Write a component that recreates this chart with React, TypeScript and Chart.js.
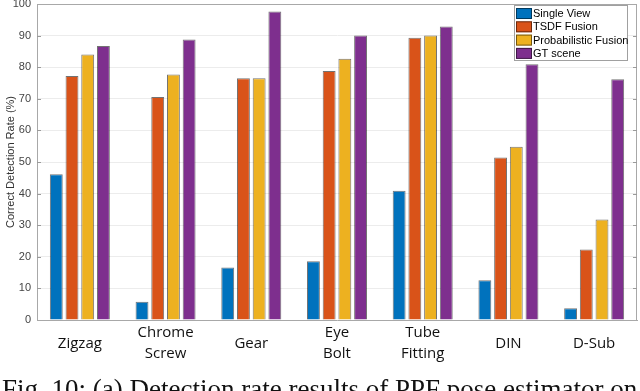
import React, { useEffect, useRef } from "react";
import { Chart, registerables } from "chart.js";

Chart.register(...registerables);

const categories: (string | string[])[] = [
  "Zigzag",
  ["Chrome", "Screw"],
  "Gear",
  ["Eye", "Bolt"],
  ["Tube", "Fitting"],
  "DIN",
  "D-Sub",
];

const seriesNames = ["Single View", "TSDF Fusion", "Probabilistic Fusion", "GT scene"];
const singleView = [46.1, 5.8, 16.6, 18.6, 40.9, 12.6, 3.7];
const tsdfFusion = [77.2, 70.6, 76.5, 78.8, 89.3, 51.4, 22.3];
const probFusion = [84.0, 77.7, 76.5, 82.7, 90.0, 54.8, 31.8];
const gtScene = [86.7, 88.8, 97.6, 90.0, 92.9, 80.9, 76.2];
const seriesColors = ["#0072BD", "#D95319", "#EDB120", "#7E2F8E"];

const yMin = 0;
const yMax = 100;
const yStep = 10;
const yTitle = "Correct Detection Rate (%)";
const caption = "Fig. 10: (a) Detection rate results of PPF pose estimator on";

const framePlugin = {
  id: "frame",
  afterDatasetsDraw(chart: any) {
    const { ctx, chartArea: a, scales } = chart;
    ctx.save();
    ctx.strokeStyle = "#a8a8a8";
    ctx.lineWidth = 1;
    ctx.beginPath();
    ctx.moveTo(a.left, a.top + 0.5);
    ctx.lineTo(a.right, a.top + 0.5);
    ctx.moveTo(a.right - 0.5, a.top);
    ctx.lineTo(a.right - 0.5, a.bottom);
    ctx.stroke();
    ctx.strokeStyle = "#9a9a9a";
    ctx.beginPath();
    const y = scales.y;
    for (let v = yMin + yStep; v < yMax; v += yStep) {
      const py = Math.round(y.getPixelForValue(v)) + 0.5;
      ctx.moveTo(a.left, py);
      ctx.lineTo(a.left + 4, py);
      ctx.moveTo(a.right, py);
      ctx.lineTo(a.right - 4, py);
    }
    ctx.stroke();
    ctx.restore();
  },
};

const legendPlugin = {
  id: "insideLegend",
  afterDraw(chart: any) {
    const { ctx, chartArea: a } = chart;
    const boxW = 114;
    const boxH = 56;
    const bx = a.right - 9 - boxW;
    const by = a.top + 1;
    ctx.save();
    ctx.fillStyle = "#ffffff";
    ctx.fillRect(bx, by, boxW, boxH);
    ctx.strokeStyle = "#a0a0a0";
    ctx.lineWidth = 1;
    ctx.strokeRect(bx + 0.5, by + 0.5, boxW - 1, boxH - 1);
    ctx.font = "11px 'Liberation Sans', Arial, sans-serif";
    ctx.textBaseline = "middle";
    ctx.textAlign = "left";
    chart.data.datasets.forEach((ds: any, i: number) => {
      const cy = by + 8.5 + i * 13.3;
      ctx.fillStyle = ds.backgroundColor;
      ctx.fillRect(bx + 2, cy - 5.5, 16, 11);
      ctx.strokeStyle = "rgba(0,0,0,0.5)";
      ctx.strokeRect(bx + 2.5, cy - 5, 15, 10);
      ctx.fillStyle = "#000";
      ctx.fillText(ds.label, bx + 19, cy + 0.5);
    });
    ctx.restore();
  },
};

export default function App() {
  const canvasRef = useRef<HTMLCanvasElement | null>(null);

  useEffect(() => {
    const canvas = canvasRef.current;
    if (!canvas) return;
    const data = [singleView, tsdfFusion, probFusion, gtScene];
    const chart = new Chart(canvas, {
      type: "bar",
      data: {
        labels: categories,
        datasets: data.map((d, i) => ({
          label: seriesNames[i],
          data: d,
          backgroundColor: seriesColors[i],
          borderColor: "rgba(0,0,0,0.55)",
          borderWidth: 1,
          categoryPercentage: 0.733,
          barPercentage: 0.82,
        })),
      },
      options: {
        responsive: false,
        animation: false,
        layout: { padding: { top: 4, right: 3, left: 0, bottom: 0 } },
        plugins: {
          legend: { display: false },
          tooltip: { enabled: false },
        },
        scales: {
          x: {
            grid: { display: false },
            border: { display: true, color: "#a8a8a8" },
            ticks: {
              font: { family: "'Open Sans', sans-serif", size: 15, lineHeight: 1.4 },
              color: "#111",
              padding: 5,
              crossAlign: "center",
              maxRotation: 0,
              autoSkip: false,
            },
            afterFit(scale: any) {
              scale.height = 71;
              scale.paddingLeft = 0;
              scale.paddingRight = 0;
            },
          },
          y: {
            min: yMin,
            max: yMax,
            grid: { color: "#ececec", drawTicks: false },
            border: { display: true, color: "#a8a8a8" },
            ticks: {
              stepSize: yStep,
              padding: 6,
              color: "#444",
              font: { family: "'Liberation Sans', Arial, sans-serif", size: 11 },
            },
            title: {
              display: true,
              text: yTitle,
              color: "#333",
              font: { family: "'Liberation Sans', Arial, sans-serif", size: 11 },
              padding: { top: 4, bottom: 0 },
            },
            afterFit(scale: any) {
              scale.width = 37;
              scale.paddingTop = 0;
              scale.paddingBottom = 0;
            },
          },
        },
      },
      plugins: [framePlugin, legendPlugin],
    });
    return () => chart.destroy();
  }, []);

  return (
    <div
      style={{
        position: "fixed",
        left: 0,
        top: 0,
        width: 640,
        height: 391,
        overflow: "hidden",
        background: "#fff",
      }}
    >
      <canvas
        ref={canvasRef}
        width={640}
        height={391}
        style={{ position: "absolute", left: 0, top: 0, width: 640, height: 391 }}
      />
      <div
        style={{
          position: "absolute",
          left: 2,
          top: 376,
          whiteSpace: "nowrap",
          fontFamily: "'Liberation Serif', 'Times New Roman', serif",
          fontSize: 27,
          lineHeight: "27px",
          color: "#111",
        }}
      >
        {caption}
      </div>
    </div>
  );
}
